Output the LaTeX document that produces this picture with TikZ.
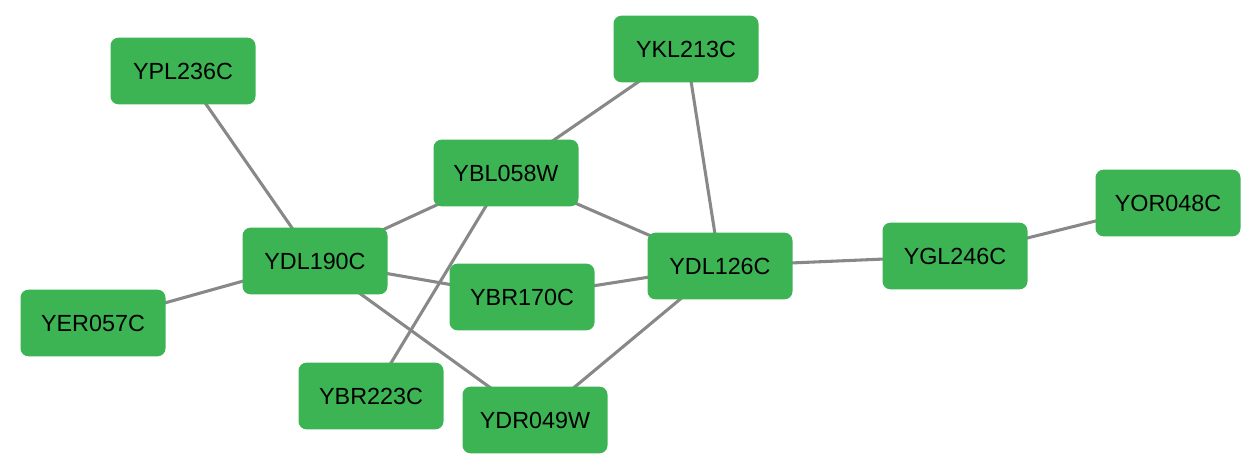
\documentclass[tikz,border=0pt]{standalone}
\usepackage{fontspec}
\setmainfont{Liberation Sans}
\usetikzlibrary{positioning,backgrounds}

\definecolor{genegreen}{HTML}{3CB454}
\definecolor{linkgray}{HTML}{888888}

\tikzset{
  gene/.style={fill=genegreen,rounded corners=6pt,minimum width=108.75pt,
    minimum height=50pt,inner sep=0pt,font=\fontsize{17.5}{21}\selectfont},
  link/.style={draw=linkgray,line width=2.3pt}
}

\begin{document}
\begin{tikzpicture}[x=0.75pt,y=-0.75pt]
      % keep the page the size of the reference
      \useasboundingbox (0,0) rectangle (1243,457);

      % gene boxes
      \node[gene] (YPL) at (183,71) {YPL236C};
      \node[gene] (YKL) at (686,49) {YKL213C};
      \node[gene] (YBL) at (506,173) {YBL058W};
      \node[gene] (YOR) at (1168,203) {YOR048C};
      \node[gene] (YDLa) at (315,261) {YDL190C};
      \node[gene] (YGL) at (955,256) {YGL246C};
      \node[gene] (YDLb) at (720,266) {YDL126C};
      \node[gene] (YBRa) at (522,297) {YBR170C};
      \node[gene] (YER) at (93,323) {YER057C};
      \node[gene] (YBRb) at (371,396) {YBR223C};
      \node[gene] (YDR) at (535,420) {YDR049W};

      % interactions, drawn behind the boxes
      \begin{scope}[on background layer]
      \draw[link] (YPL.center) -- (YDLa.center);
      \draw[link] (YER.center) -- (YDLa.center);
      \draw[link] (YDLa.center) -- (YBL.center);
      \draw[link] (YDLa.center) -- (YBRa.center);
      \draw[link] (YDLa.center) -- (YDR.center);
      \draw[link] (YBL.center) -- (YBRb.center);
      \draw[link] (YBL.center) -- (YKL.center);
      \draw[link] (YBL.center) -- (YDLb.center);
      \draw[link] (YKL.center) -- (YDLb.center);
      \draw[link] (YBRa.center) -- (YDLb.center);
      \draw[link] (YDLb.center) -- (YDR.center);
      \draw[link] (YDLb.center) -- (YGL.center);
      \draw[link] (YGL.center) -- (YOR.center);
      \end{scope}
\end{tikzpicture}
\end{document}
